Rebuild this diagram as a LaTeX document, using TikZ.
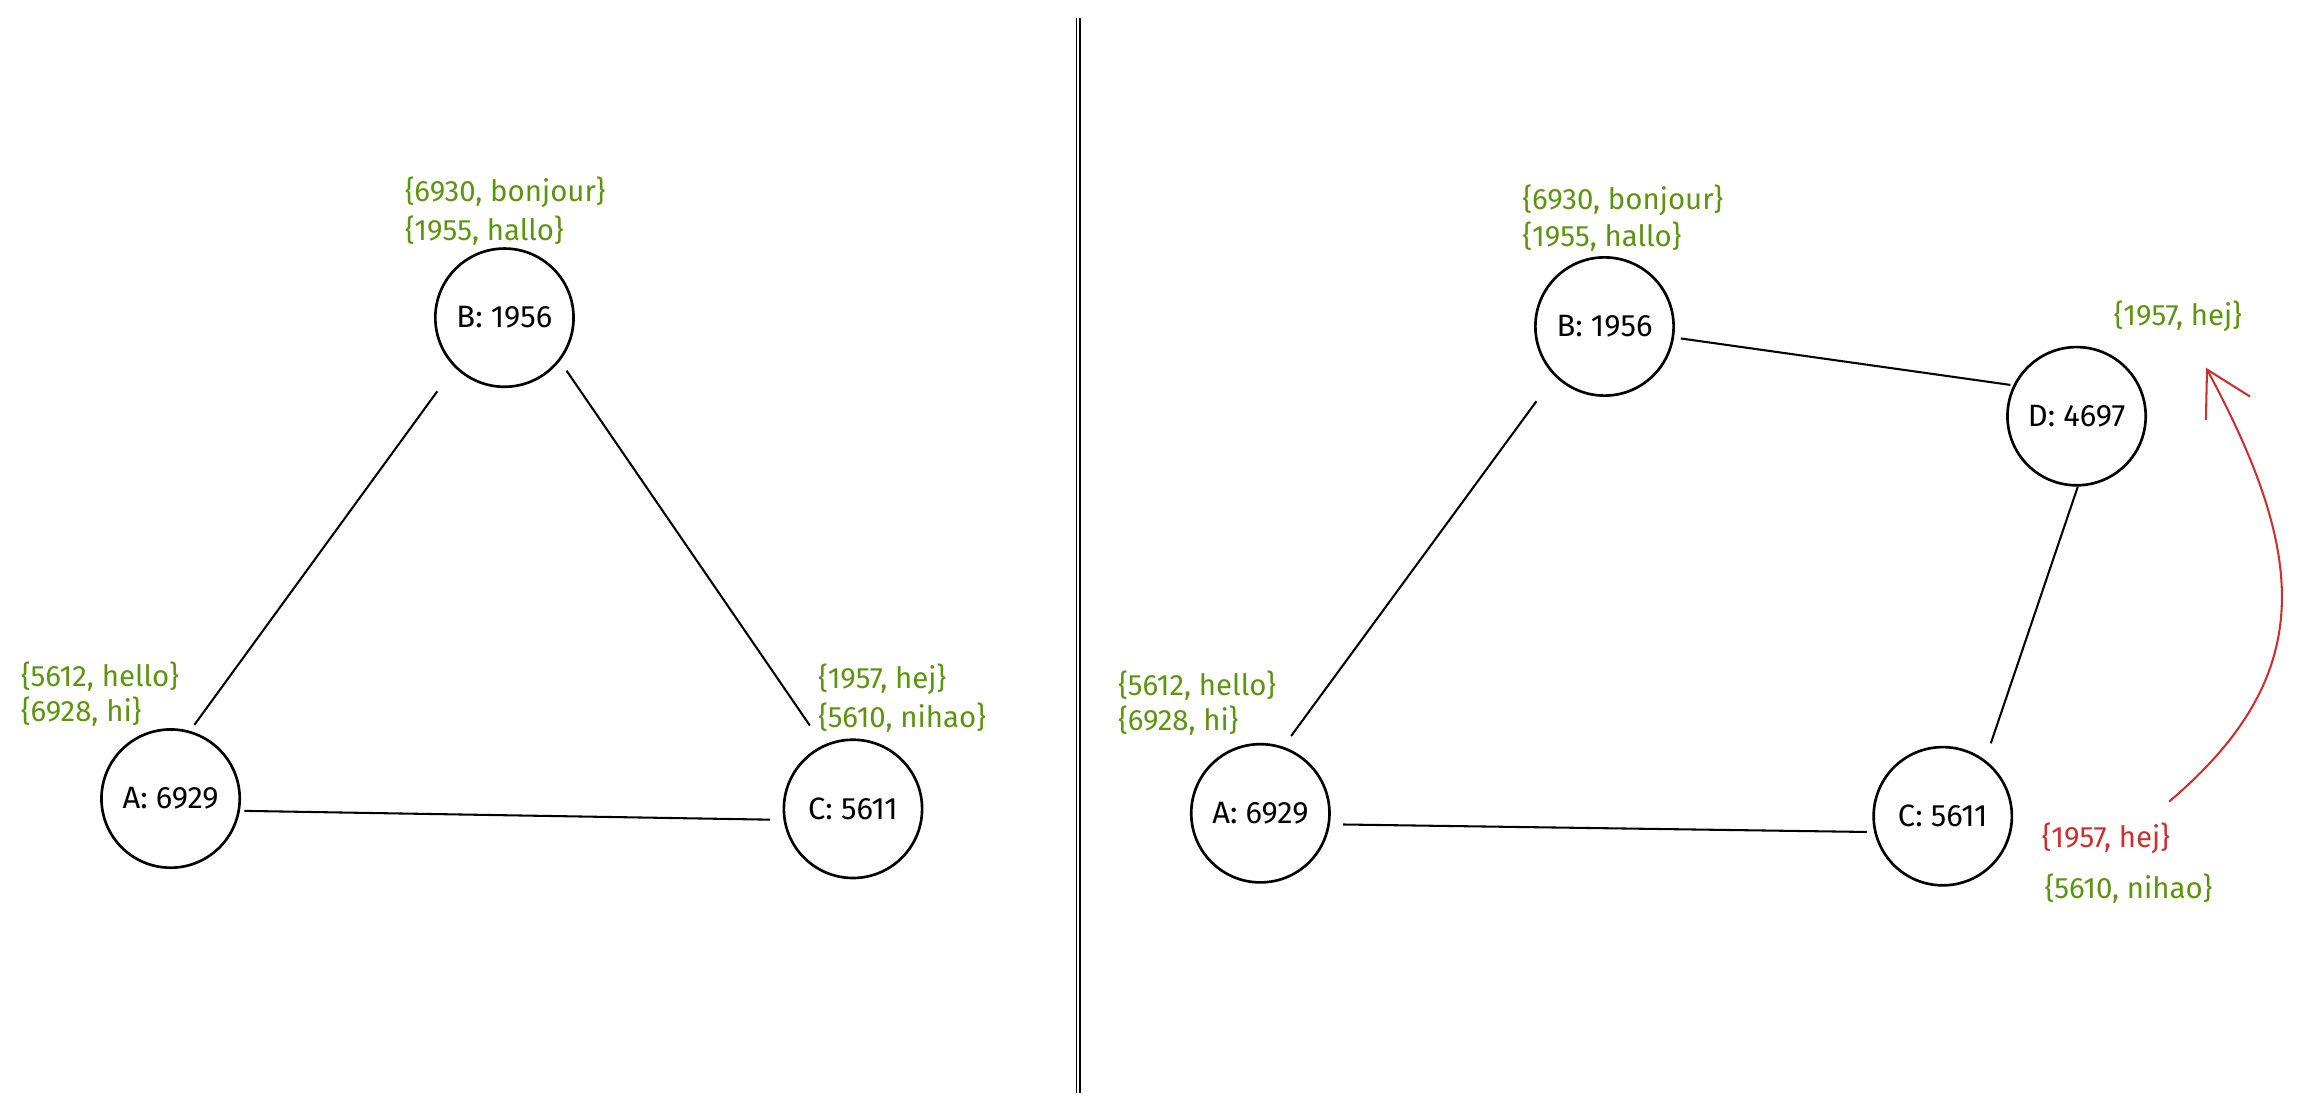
\documentclass[tikz,border=0pt]{standalone}
\usepackage{fontspec}
\setmainfont{Fira Sans}
\usetikzlibrary{arrows.meta}
\definecolor{lgreen}{HTML}{5C940D}
\definecolor{lred}{HTML}{CC2F2F}
\begin{document}
\begin{tikzpicture}[x=0.5pt,y=-0.5pt,
  vtx/.style={circle,draw=black,line width=0.9pt,minimum size=47pt,inner sep=0pt,font=\fontsize{10.5}{12}\selectfont},
  lbl/.style={anchor=west,inner sep=0pt,text=lgreen,font=\fontsize{10}{12}\selectfont},
  rlbl/.style={lbl,text=lred},
  edge/.style={draw=black,line width=0.7pt},
  divider/.style={draw=black,double=white,double distance=0.8pt,line width=0.45pt},
  redarrow/.style={draw=lred,line width=0.7pt,-{Straight Barb[length=15pt,width=17pt]}}]
\useasboundingbox (0,0) rectangle (1568,755);
% divider
\coordinate (dtop) at (733,12);
\coordinate (dbot) at (733,743);
\draw[divider] (dtop) -- (dbot);
% left graph
\node[vtx] (lA) at (116,543) {A: 6929};
\node[vtx] (lB) at (343,216) {B: 1956};
\node[vtx] (lC) at (580,550) {C: 5611};
\node[lbl] (lB1) at (275,131) {\{6930, bonjour\}};
\node[lbl] (lB2) at (275,157) {\{1955, hallo\}};
\node[lbl] (lA1) at (14,460) {\{5612, hello\}};
\node[lbl] (lA2) at (14,484) {\{6928, hi\}};
\node[lbl] (lC1) at (556,462) {\{1957, hej\}};
\node[lbl] (lC2) at (556,488) {\{5610, nihao\}};
\draw[edge,shorten <=2.5pt,shorten >=10pt] (lA.74) -- (lB.225);
\draw[edge,shorten <=4pt,shorten >=8pt] (lB.-38) -- (lC.115);
\draw[edge,shorten <=1.5pt,shorten >=4.5pt] (lA.-10) -- (lC.189);
% right graph
\node[vtx] (rA) at (857,553) {A: 6929};
\node[vtx] (rB) at (1091,222) {B: 1956};
\node[vtx] (rC) at (1321,555) {C: 5611};
\node[vtx] (rD) at (1412,283) {D: 4697};
\node[lbl] (rB1) at (1035,136) {\{6930, bonjour\}};
\node[lbl] (rB2) at (1035,161) {\{1955, hallo\}};
\node[lbl] (rD1) at (1437,215) {\{1957, hej\}};
\node[lbl] (rA1) at (760,466) {\{5612, hello\}};
\node[lbl] (rA2) at (760,490) {\{6928, hi\}};
\node[rlbl] (rC1) at (1388,570) {\{1957, hej\}};
\node[lbl] (rC2) at (1390,604) {\{5610, nihao\}};
\draw[edge,shorten <=2.3pt,shorten >=1pt] (rB.-9) -- (rD.154);
\draw[edge,shorten <=10.5pt,shorten >=4.5pt] (rB.225) -- (rA.71);
\draw[edge,shorten >=6pt] (rD.-89) -- (rC.53);
\draw[edge,shorten <=4.5pt,shorten >=2.5pt] (rA.-9) -- (rC.193);
% red arrow
\coordinate (arrS) at (1475,545);
\coordinate (arrE) at (1500,250);
\draw[redarrow] (arrS) .. controls (1575,460) and (1570,380) .. (arrE);
\end{tikzpicture}
\end{document}
